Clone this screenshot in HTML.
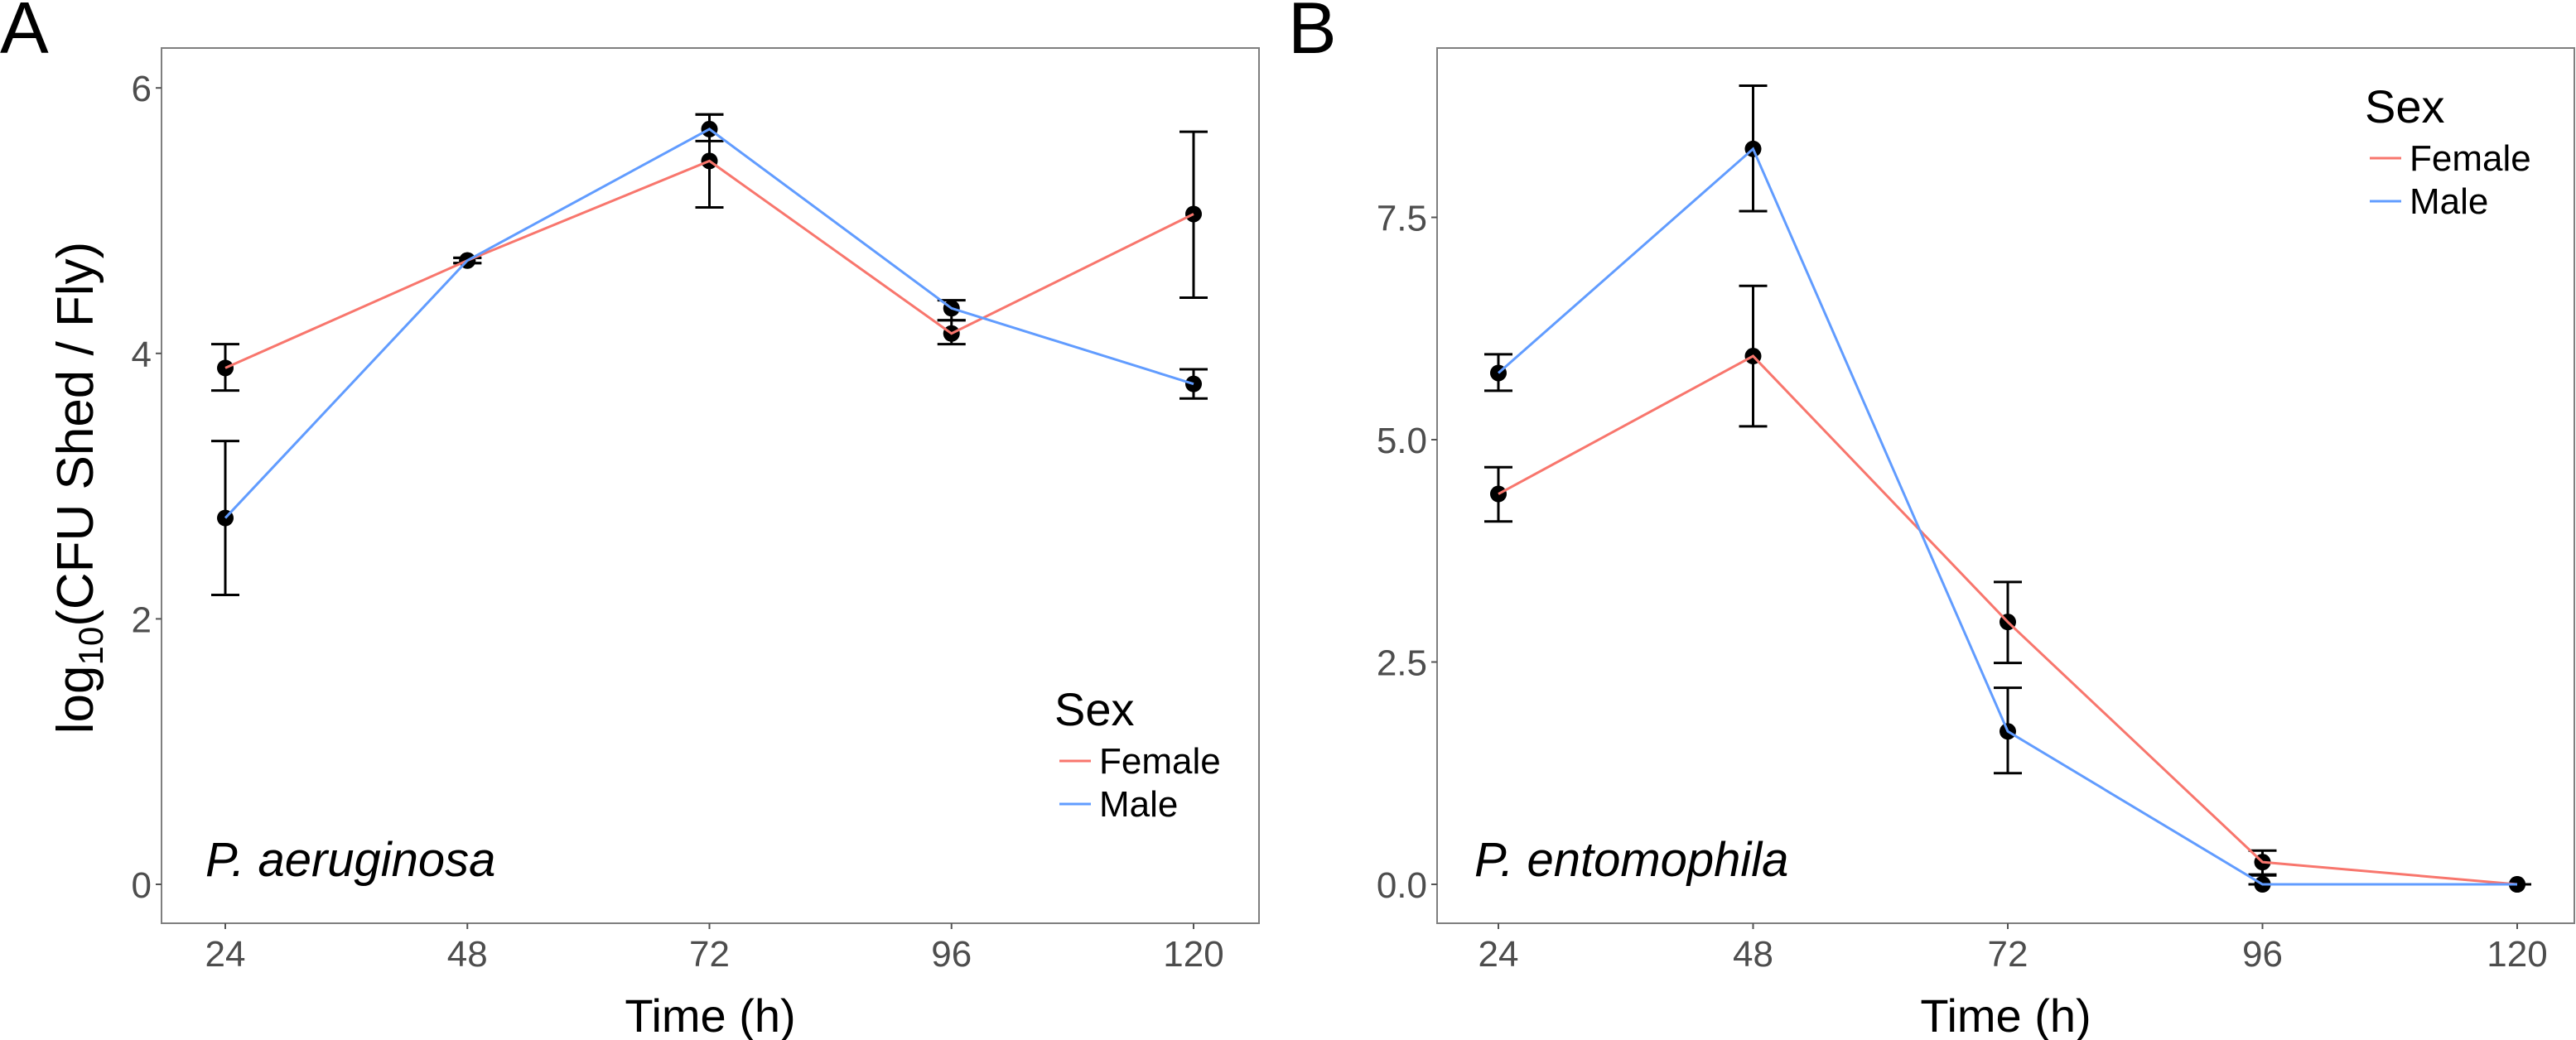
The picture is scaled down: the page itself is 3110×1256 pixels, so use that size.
<!DOCTYPE html>
<html><head><meta charset="utf-8">
<style>
html,body{margin:0;padding:0;background:#fff;}
svg{display:block;font-family:"Liberation Sans",sans-serif;}
</style></head>
<body>
<svg id="fig" width="3110" height="1256" viewBox="0 0 3110 1256" xmlns="http://www.w3.org/2000/svg">
  <text x="0" y="64" font-size="88" fill="#000">A</text>
  <text x="1555" y="64" font-size="88" fill="#000">B</text>
  <g id="panelA"></g>
  <g id="panelB"></g>
  <text transform="translate(112,589) rotate(-90)" text-anchor="middle" font-size="62" fill="#000">log<tspan font-size="42" dy="12">10</tspan><tspan dy="-12">(CFU Shed / Fly)</tspan></text>
</svg>
<script>
const times = [24, 48, 72, 96, 120];
const aFemale = [3.89, 4.70, 5.45, 4.15, 5.05];
const aFemaleLo = [3.72, 4.68, 5.10, 4.07, 4.42];
const aFemaleHi = [4.07, 4.72, 5.80, 4.25, 5.67];
const aMale = [2.76, 4.70, 5.69, 4.34, 3.77];
const aMaleLo = [2.18, 4.68, 5.60, 4.25, 3.66];
const aMaleHi = [3.34, 4.72, 5.80, 4.40, 3.88];
const aTicks = [0, 2, 4, 6];
const aTickLabels = ["0", "2", "4", "6"];
const bFemale = [4.39, 5.94, 2.95, 0.25, 0.0];
const bFemaleLo = [4.08, 5.15, 2.49, 0.11, 0.0];
const bFemaleHi = [4.69, 6.73, 3.40, 0.38, 0.0];
const bMale = [5.75, 8.27, 1.72, 0.0, 0.0];
const bMaleLo = [5.55, 7.57, 1.25, 0.0, 0.0];
const bMaleHi = [5.96, 8.98, 2.21, 0.1, 0.0];
const bTicks = [0, 2.5, 5, 7.5];
const bTickLabels = ["0.0", "2.5", "5.0", "7.5"];
const xTickLabels = ["24", "48", "72", "96", "120"];

const NS = "http://www.w3.org/2000/svg";
function mk(parent, tag, attrs) {
  const e = document.createElementNS(NS, tag);
  for (const k in attrs) e.setAttribute(k, attrs[k]);
  parent.appendChild(e);
  return e;
}

function panel(g, cfg) {
  const xS = t => cfg.x0 + (t - 24) / 96 * (cfg.x1 - cfg.x0);
  const yS = v => cfg.y0 - v * cfg.ppu;
  const box = mk(g, "rect", {x: cfg.bl, y: 58, width: cfg.br - cfg.bl, height: 1057, fill: "none", stroke: "#7f7f7f", "stroke-width": 2});
  
  
  cfg.ticks.forEach((v, i) => {
    const y = yS(v);
    const tk = mk(g, "line", {x1: cfg.bl - 7, x2: cfg.bl, y1: y, y2: y, stroke: "#555", "stroke-width": 2});
    
    
    const tl = mk(g, "text", {x: cfg.bl - 12, y: y + 16, "text-anchor": "end", "font-size": 44, fill: "#4d4d4d"});
    tl.textContent = cfg.tickLabels[i];
    
    
  });
  times.forEach((t, i) => {
    const x = xS(t);
    const tk = mk(g, "line", {x1: x, x2: x, y1: 1115, y2: 1122, stroke: "#555", "stroke-width": 2});
    
    
    const tl = mk(g, "text", {x: x, y: 1167, "text-anchor": "middle", "font-size": 44, fill: "#4d4d4d"});
    tl.textContent = xTickLabels[i];
    
    
  });
  const xt = mk(g, "text", {x: (cfg.bl + cfg.br) / 2, y: 1246, "text-anchor": "middle", "font-size": 56, fill: "#000"});
  xt.textContent = "Time (h)";
  
  

  const series = [
    {name: "female", v: cfg.f, lo: cfg.fl, hi: cfg.fh, color: "#f8766d"},
    {name: "male", v: cfg.m, lo: cfg.ml, hi: cfg.mh, color: "#619cff"}
  ];
  series.forEach(s => {
    s.v.forEach((v, i) => {
      const x = xS(times[i]);
      const eb = mk(g, "path", {d: `M${x-17},${yS(s.hi[i])}H${x+17}M${x},${yS(s.hi[i])}V${yS(s.lo[i])}M${x-17},${yS(s.lo[i])}H${x+17}`, stroke: "#000", "stroke-width": 3, fill: "none"});
      
      
    });
  });
  series.forEach(s => {
    s.v.forEach((v, i) => {
      const c = mk(g, "circle", {cx: xS(times[i]), cy: yS(v), r: 10, fill: "#000"});
      
      
    });
  });
  series.forEach(s => {
    const pts = s.v.map((v, i) => xS(times[i]) + "," + yS(v)).join(" ");
    const pl = mk(g, "polyline", {points: pts, fill: "none", stroke: s.color, "stroke-width": 3});
    
    
  });
  // legend
  const lg = mk(g, "g", {});
  
  
  const lt = mk(lg, "text", {x: cfg.lx, y: cfg.ly, "font-size": 56, fill: "#000"});
  lt.textContent = "Sex";
  
  
  [["Female", "#f8766d"], ["Male", "#619cff"]].forEach((e, i) => {
    const yy = cfg.ly + 58 + i * 52;
    const ln = mk(lg, "line", {x1: cfg.lx + 6, x2: cfg.lx + 44, y1: yy - 15, y2: yy - 15, stroke: e[1], "stroke-width": 3});
    
    
    const tx = mk(lg, "text", {x: cfg.lx + 54, y: yy, "font-size": 44, fill: "#000"});
    tx.textContent = e[0];
    
    
  });
  const sp = mk(g, "text", {x: cfg.spx, y: 1058, "font-size": 58, "font-style": "italic", fill: "#000"});
  sp.textContent = cfg.species;
  
  
}

panel(document.getElementById("panelA"), {
  bl: 195, br: 1520, x0: 272, x1: 1441, y0: 1068, ppu: 160.3,
  ticks: aTicks, tickLabels: aTickLabels,
  f: aFemale, fl: aFemaleLo, fh: aFemaleHi, m: aMale, ml: aMaleLo, mh: aMaleHi,
  lx: 1273, ly: 876, spx: 248, species: "P. aeruginosa"
});
panel(document.getElementById("panelB"), {
  bl: 1735, br: 3108, x0: 1809, x1: 3039, y0: 1068, ppu: 107.4,
  ticks: bTicks, tickLabels: bTickLabels,
  f: bFemale, fl: bFemaleLo, fh: bFemaleHi, m: bMale, ml: bMaleLo, mh: bMaleHi,
  lx: 2855, ly: 148, spx: 1780, species: "P. entomophila"
});
</script>
</body></html>
